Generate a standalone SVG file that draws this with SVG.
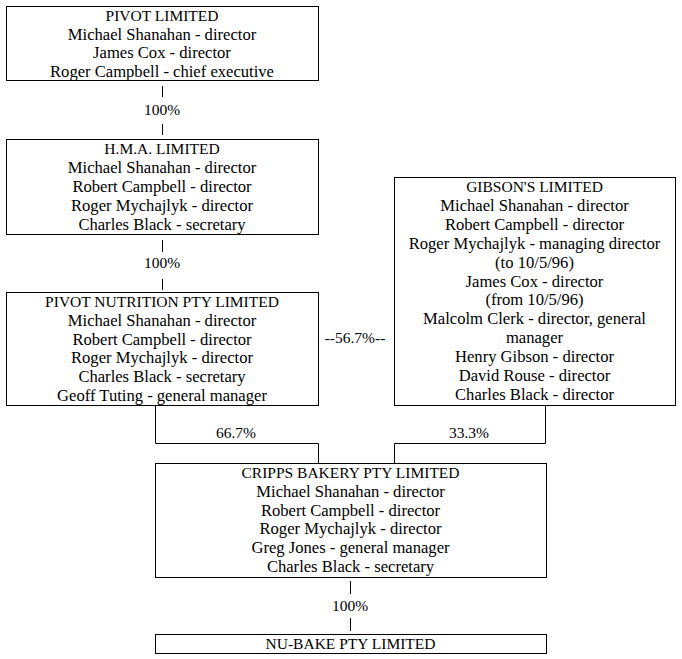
<svg xmlns="http://www.w3.org/2000/svg" width="682" height="659" viewBox="0 0 682 659">
<style>
.box{fill:#fff;stroke:#000;stroke-width:1}
.ln{fill:none;stroke:#000;stroke-width:1}
.t text{text-anchor:middle}
.t .p{font-size:16.6px}
</style>
<rect width="682" height="659" fill="#fff"/>
<g class="t" font-family="Liberation Serif, DejaVu Serif, serif" font-size="15.5" fill="#000">
<g id="connectors">
<path class="ln" d="M162.5 86V97M162.5 124V135"/>
<text x="162" y="115">100%</text>
<path class="ln" d="M162.5 240V252M162.5 279V290"/>
<text x="162" y="268">100%</text>
<path class="ln" d="M155.5 405V443.5H318.5V463"/>
<text x="236" y="438">66.7%</text>
<path class="ln" d="M545.5 405V443.5H394.5V463"/>
<text x="469" y="438">33.3%</text>
<text x="355" y="343">--56.7%--</text>
<path class="ln" d="M350.5 581V594M350.5 618V631"/>
<text x="350" y="611">100%</text>
</g>
<g id="pivot">
<rect class="box" x="6.5" y="6.5" width="312" height="74"/>
<text x="162" y="21">PIVOT LIMITED</text>
<text class="p" x="162" y="39.5">Michael Shanahan - director</text>
<text class="p" x="162" y="58">James Cox - director</text>
<text class="p" x="162" y="76.5">Roger Campbell - chief executive</text>
</g>
<g id="hma">
<rect class="box" x="6.5" y="139.5" width="312" height="95"/>
<text x="162" y="154">H.M.A. LIMITED</text>
<text class="p" x="162" y="173">Michael Shanahan - director</text>
<text class="p" x="162" y="192">Robert Campbell - director</text>
<text class="p" x="162" y="211">Roger Mychajlyk - director</text>
<text class="p" x="162" y="230">Charles Black - secretary</text>
</g>
<g id="pivotnutrition">
<rect class="box" x="6.5" y="292.5" width="312" height="113"/>
<text x="162" y="307">PIVOT NUTRITION PTY LIMITED</text>
<text class="p" x="162" y="326">Michael Shanahan - director</text>
<text class="p" x="162" y="344.6">Robert Campbell - director</text>
<text class="p" x="162" y="363.3">Roger Mychajlyk - director</text>
<text class="p" x="162" y="382">Charles Black - secretary</text>
<text class="p" x="162" y="400.6">Geoff Tuting - general manager</text>
</g>
<g id="gibsons">
<rect class="box" x="394.5" y="177.5" width="281" height="228"/>
<text x="534.5" y="192">GIBSON'S LIMITED</text>
<text class="p" x="534.5" y="210.9">Michael Shanahan - director</text>
<text class="p" x="534.5" y="229.8">Robert Campbell - director</text>
<text class="p" x="534.5" y="248.7">Roger Mychajlyk - managing director</text>
<text class="p" x="534.5" y="267.6">(to 10/5/96)</text>
<text class="p" x="534.5" y="286.5">James Cox - director</text>
<text class="p" x="534.5" y="305.4">(from 10/5/96)</text>
<text class="p" x="534.5" y="324.3">Malcolm Clerk - director, general</text>
<text class="p" x="534.5" y="343.2">manager</text>
<text class="p" x="534.5" y="362.1">Henry Gibson - director</text>
<text class="p" x="534.5" y="381">David Rouse - director</text>
<text class="p" x="534.5" y="400">Charles Black - director</text>
</g>
<g id="cripps">
<rect class="box" x="155.5" y="463.5" width="391" height="114"/>
<text x="350.5" y="478">CRIPPS BAKERY PTY LIMITED</text>
<text class="p" x="350.5" y="496.8">Michael Shanahan - director</text>
<text class="p" x="350.5" y="515.6">Robert Campbell - director</text>
<text class="p" x="350.5" y="534.4">Roger Mychajlyk - director</text>
<text class="p" x="350.5" y="553.2">Greg Jones - general manager</text>
<text class="p" x="350.5" y="572">Charles Black - secretary</text>
</g>
<g id="nubake">
<rect class="box" x="155.5" y="634.5" width="391" height="19"/>
<text x="350.5" y="648.5">NU-BAKE PTY LIMITED</text>
</g>
</g>
</svg>
